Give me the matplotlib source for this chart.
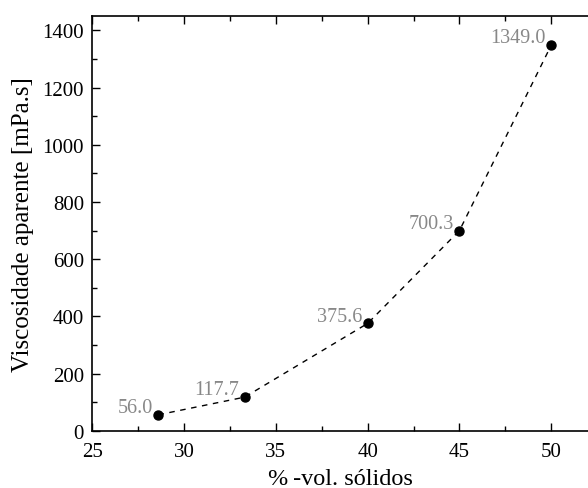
import matplotlib
matplotlib.use("Agg")
import matplotlib.pyplot as plt
from matplotlib.ticker import MultipleLocator

# data
solids = [28.6, 33.3, 40.0, 45.0, 50.0]
viscosity = [56.0, 117.7, 375.6, 700.3, 1349.0]
labels = ["56.0", "117.7", "375.6", "700.3", "1349.0"]

plt.rcParams["font.family"] = ["Liberation Serif", "DejaVu Serif"]

fig = plt.figure(figsize=(5.88, 4.89), dpi=100)
ax = fig.add_axes([0.157, 0.117, 0.843, 0.849])

ax.plot(solids, viscosity, linestyle="--", color="black", linewidth=1.0,
        dashes=(4, 4), zorder=2)
ax.plot(solids, viscosity, linestyle="none", marker="o", color="black",
        markersize=6.5, zorder=3)

for x, y, txt in zip(solids, viscosity, labels):
    ax.annotate(txt, xy=(x, y), xytext=(-4, 2), textcoords="offset points",
                ha="right", va="baseline", fontsize=14.5, color="#888888")

ax.set_xlim(25, 52)
ax.set_ylim(0, 1452)
ax.xaxis.set_major_locator(MultipleLocator(5))
ax.xaxis.set_minor_locator(MultipleLocator(2.5))
ax.yaxis.set_major_locator(MultipleLocator(200))
ax.yaxis.set_minor_locator(MultipleLocator(100))

ax.tick_params(which="both", direction="in", top=True, right=False,
               labelsize=15, width=1.0)
ax.tick_params(which="major", length=6)
ax.tick_params(which="minor", length=3.5)
ax.tick_params(axis="x", pad=8)
ax.tick_params(axis="y", pad=6)
ax.spines["right"].set_visible(False)
for s in ["left", "bottom", "top"]:
    ax.spines[s].set_linewidth(1.2)

ax.set_xlabel("%\u2009-vol. sólidos", fontsize=17.5, labelpad=5)
ax.set_ylabel("Viscosidade aparente [mPa.s]", fontsize=18, labelpad=6)

fig.savefig("out.png", dpi=100)
